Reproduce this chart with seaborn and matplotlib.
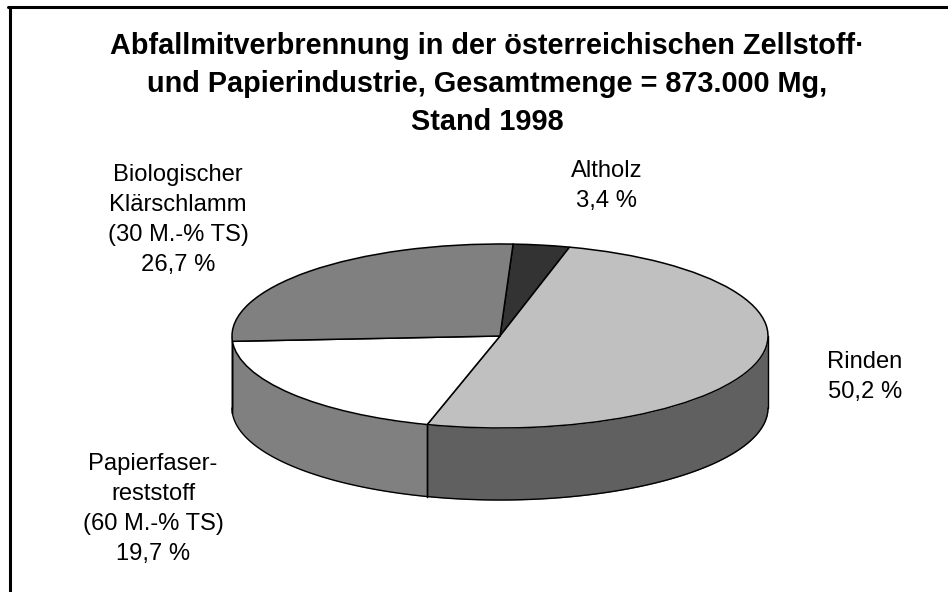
import numpy as np
import seaborn as sns
import matplotlib.pyplot as plt

sns.set_theme(style='white')
plt.rcParams['font.family'] = ['Liberation Sans', 'DejaVu Sans']

# pie values, clockwise from the Altholz slice
names = ['Altholz', 'Rinden', 'Papierfaser-\nreststoff\n(60 M.-% TS)', 'Biologischer\nKlärschlamm\n(30 M.-% TS)']
shares = [3.4, 50.2, 19.7, 26.7]
share_text = ['3,4 %', '50,2 %', '19,7 %', '26,7 %']
top_colors = ['#333333', '#C0C0C0', '#FFFFFF', '#808080']
side_colors = ['#1A1A1A', '#606060', '#808080', '#808080']
title = ('Abfallmitverbrennung in der österreichischen Zellstoff·\n'
         'und Papierindustrie, Gesamtmenge = 873.000 Mg,\n'
         'Stand 1998')

W, H = 948, 592
cx, cy = 500, 336     # centre of the top ellipse, px
rx, ry = 268, 92      # ellipse radii, px
depth = 72 / ry
start = 87.2

fig = plt.figure(figsize=(W / 100, H / 100), dpi=100, facecolor='white')
ax = fig.add_axes([0, 0, 1, 1])


def wall(a0, a1, color):
    # side of the cake for clockwise angles a0 -> a1, front half only
    a0, a1 = max(a0, 180), min(a1, 360)
    if a1 <= a0:
        return
    t = np.radians(np.linspace(a0, a1, 120))
    x, y = np.cos(t), np.sin(t)
    ax.fill_between(x, y - depth, y, color=color, lw=0, zorder=1)
    ax.plot(x, y - depth, color='black', lw=1, zorder=2)
    for xe, ye in [(x[0], y[0]), (x[-1], y[-1])]:
        ax.plot([xe, xe], [ye, ye - depth], color='black', lw=1, zorder=2)


ends = start - 360 * np.cumsum(shares) / 100
begins = np.r_[start, ends[:-1]]
for b, e, c in zip(begins, ends, side_colors):
    # clockwise from b to e, written counter-clockwise and unwrapped into 180..540
    lo, hi = e % 360, (e % 360) + (b - e)
    wall(lo, hi, c)
    wall(lo + 360, hi + 360, c)
    wall(lo - 360, hi - 360, c)

ax.pie(shares, colors=top_colors, startangle=start, counterclock=False,
       wedgeprops=dict(edgecolor='black', linewidth=1.1, zorder=3))
ax.set_aspect('auto')
ax.set_xlim(-cx / rx, (W - cx) / rx)
ax.set_ylim((cy - H) / ry, cy / ry)
ax.axis('off')

# frame: only top and left lines are visible
fig.add_artist(plt.Line2D([9.5 / W, 9.5 / W], [0, 1 - 7 / H], color='black', lw=2.2))
fig.add_artist(plt.Line2D([8 / W, 1], [1 - 7 / H, 1 - 7 / H], color='black', lw=2.2))

fig.text(487 / W, 1 - 84 / H, title, ha='center', va='center', fontsize=20.8,
         fontweight='bold', color='black', linespacing=1.44)

label_pos = [(607, 186), (865, 377), (153, 509), (178, 220)]
for name, pct, (px, py) in zip(names, share_text, label_pos):
    fig.text(px / W, 1 - py / H, name + '\n' + pct, ha='center', va='center',
             fontsize=17.1, color='black', linespacing=1.49)

fig.savefig('out.png', dpi=100)
